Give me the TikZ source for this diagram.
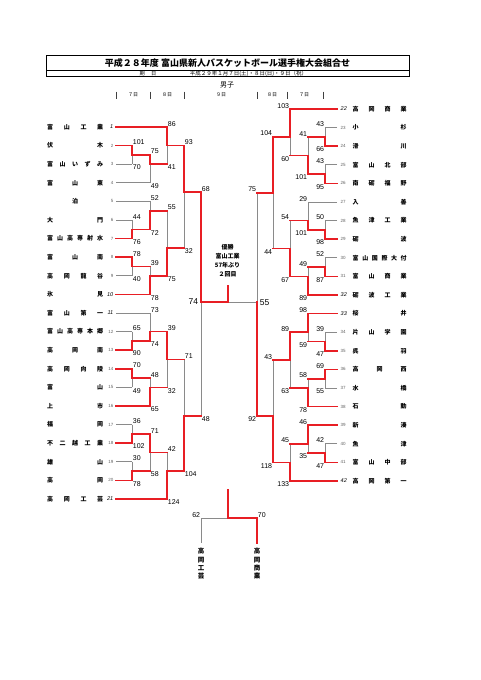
\documentclass[tikz,border=0pt]{standalone}
\usepackage{fontspec}
\setmainfont{Liberation Sans}
\newfontfamily\jp{Noto Sans CJK JP}
\definecolor{wr}{RGB}{232,30,36}
\definecolor{lg}{RGB}{138,138,138}
\pgfdeclarelayer{back}
\pgfsetlayers{back,main}
\tikzset{
 win/.style={draw=wr,line width=1.6pt,line cap=rect},
 lose/.style={draw=lg,line width=0.8pt},
 sc/.style={font=\fontsize{7}{8}\selectfont,inner sep=0.7pt},
 bigsc/.style={font=\fontsize{8.5}{9}\selectfont,inner sep=0.7pt},
 nm/.style={font=\jp\bfseries\fontsize{6}{7}\selectfont,inner sep=0pt},
 plain/.style={font=\fontsize{4.5}{5}\selectfont,text=lg!70!black,inner sep=0pt},
 seed/.style={font=\itshape\fontsize{5.5}{6}\selectfont,inner sep=0pt},
 day/.style={font=\jp\fontsize{5}{6}\selectfont,inner sep=0pt},
 vt/.style={font=\jp\bfseries\fontsize{6.5}{8.3}\selectfont,align=center,inner sep=0pt},
}
\newcommand\mtop[5]{\begin{pgfonlayer}{back}\draw[lose] (#1,#3)--(#1,#4);\end{pgfonlayer}\draw[win] (#1,#2)--(#1,#3)--(#5,#3);}
\newcommand\mbot[5]{\begin{pgfonlayer}{back}\draw[lose] (#1,#2)--(#1,#3);\end{pgfonlayer}\draw[win] (#1,#4)--(#1,#3)--(#5,#3);}
\newcommand\teamw[3]{\draw[win] (#1,#2)--(#3,#2);}
\newcommand\teaml[3]{\begin{pgfonlayer}{back}\draw[lose] (#1,#2)--(#3,#2);\end{pgfonlayer}}
\newcommand\lscore[5]{\node[sc,anchor=south west] at (#1,#2) {#4};\node[sc,anchor=north west] at (#1,#3) {#5};}
\newcommand\rscore[5]{\node[sc,anchor=south east] at (#1,#2) {#4};\node[sc,anchor=north east] at (#1,#3) {#5};}
\newcommand\LN[4]{\node[nm,anchor=west] (n#1) at (47,#2) {\makebox[56pt][s]{#3}};\node[#4,anchor=east] (k#1) at (113.5,#2) {#1};}
\newcommand\RN[4]{\node[nm,anchor=west] (n#1) at (352.5,#2) {\makebox[54pt][s]{#3}};\node[#4,anchor=west] (k#1) at (340.5,#2) {#1};}
\begin{document}
\begin{tikzpicture}[x=1pt,y=-1pt]
\useasboundingbox (0,0) rectangle (481,680);
% header
\draw[line width=0.8pt] (46,55) rectangle (409,76.7);
\draw[line width=0.6pt] (46,70.7)--(409,70.7);
\node[font=\jp\bfseries\fontsize{9}{10}\selectfont,inner sep=0pt] (title) at (227.5,63) {平成２８年度 富山県新人バスケットボール選手権大会組合せ};
\node[font=\jp\fontsize{5.2}{6}\selectfont,inner sep=0pt] (kijitsu) at (148,73.8) {期\hspace{1.2em}日};
\node[font=\jp\fontsize{5.5}{6}\selectfont,inner sep=0pt] (date) at (248.5,73.8) {平成２９年１月７日(土)・８日(日)・９日（祝）};
\node[font=\jp\fontsize{7}{8}\selectfont,inner sep=0pt] (danshi) at (227,85) {男子};
\foreach \x/\nm in {116/a,150/b,184/c,257/d,287/e,323/f}
  \draw[line width=0.45pt,black!75] (\x,91.5) coordinate (tk\nm) -- (\x,98.5);
\node[day] (d1) at (133,95) {７日};
\node[day] (d2) at (167,95) {８日};
\node[day] (d3) at (221,95) {９日};
\node[day] (d4) at (272,95) {８日};
\node[day] (d5) at (304,95) {７日};
% left names
\LN{1}{127}{富\hfill 山\hfill 工\hfill 業}{seed}
\LN{2}{145.6}{伏\hfill 木}{plain}
\LN{3}{164.2}{富\hfill 山\hfill い\hfill ず\hfill み}{plain}
\LN{4}{182.8}{富\hfill 山\hfill 東}{plain}
\LN{5}{201.4}{\hfill 泊\hfill}{plain}
\LN{6}{220}{大\hfill 門}{plain}
\LN{7}{238.6}{富\hfill 山\hfill 高\hfill 専\hfill 射\hfill 水}{plain}
\LN{8}{257.2}{富\hfill 山\hfill 南}{plain}
\LN{9}{275.8}{高\hfill 岡\hfill 龍\hfill 谷}{plain}
\LN{10}{294.4}{氷\hfill 見}{seed}
\LN{11}{313}{富\hfill 山\hfill 第\hfill 一}{seed}
\LN{12}{331.6}{富\hfill 山\hfill 高\hfill 専\hfill 本\hfill 郷}{plain}
\LN{13}{350.2}{高\hfill 岡\hfill 南}{plain}
\LN{14}{368.8}{高\hfill 岡\hfill 向\hfill 陵}{plain}
\LN{15}{387.4}{富\hfill 山}{plain}
\LN{16}{406}{上\hfill 市}{plain}
\LN{17}{424.6}{福\hfill 岡}{plain}
\LN{18}{443.2}{不\hfill 二\hfill 越\hfill 工\hfill 業}{plain}
\LN{19}{461.8}{雄\hfill 山}{plain}
\LN{20}{480.4}{高\hfill 岡}{plain}
\LN{21}{499}{高\hfill 岡\hfill 工\hfill 芸}{seed}
% right names
\RN{22}{109}{高\hfill 岡\hfill 商\hfill 業}{seed}
\RN{23}{127.6}{小\hfill 杉}{plain}
\RN{24}{146.2}{滑\hfill 川}{plain}
\RN{25}{164.8}{富\hfill 山\hfill 北\hfill 部}{plain}
\RN{26}{183.4}{南\hfill 砺\hfill 福\hfill 野}{plain}
\RN{27}{202}{入\hfill 善}{plain}
\RN{28}{220.6}{魚\hfill 津\hfill 工\hfill 業}{plain}
\RN{29}{239.2}{砺\hfill 波}{plain}
\RN{30}{257.8}{富\hfill 山\hfill 国\hfill 際\hfill 大\hfill 付}{plain}
\RN{31}{276.4}{富\hfill 山\hfill 商\hfill 業}{plain}
\RN{32}{295}{砺\hfill 波\hfill 工\hfill 業}{seed}
\RN{33}{313.6}{桜\hfill 井}{seed}
\RN{34}{332.2}{片\hfill 山\hfill 学\hfill 園}{plain}
\RN{35}{350.8}{呉\hfill 羽}{plain}
\RN{36}{369.4}{高\hfill 岡\hfill 西}{plain}
\RN{37}{388}{水\hfill 橋}{plain}
\RN{38}{406.6}{石\hfill 動}{plain}
\RN{39}{425.2}{新\hfill 湊}{plain}
\RN{40}{443.8}{魚\hfill 津}{plain}
\RN{41}{462.4}{富\hfill 山\hfill 中\hfill 部}{plain}
\RN{42}{481}{高\hfill 岡\hfill 第\hfill 一}{seed}
% left team lines
\teamw{116}{127}{167}
\teamw{116}{145.6}{132}
\teaml{116}{164.2}{132}
\teaml{116}{182.8}{150}
\teaml{116}{201.4}{150}
\teaml{116}{220}{132}
\teamw{116}{238.6}{132}
\teamw{116}{257.2}{132}
\teaml{116}{275.8}{132}
\teamw{116}{294.4}{150}
\teaml{116}{313}{150}
\teaml{116}{331.6}{132}
\teamw{116}{350.2}{132}
\teamw{116}{368.8}{132}
\teaml{116}{387.4}{132}
\teamw{116}{406}{150}
\teaml{116}{424.6}{132}
\teamw{116}{443.2}{132}
\teaml{116}{461.8}{132}
\teamw{116}{480.4}{132}
\teamw{116}{499}{167}
% left matches
\mtop{132}{145.6}{154.9}{164.2}{150}
\mtop{150}{154.9}{164.2}{182.8}{167}
\mtop{167}{127}{145.6}{164.2}{184}
\mbot{132}{220}{229.3}{238.6}{150}
\mbot{150}{201.4}{210.7}{229.3}{167}
\mtop{132}{257.2}{266.5}{275.8}{150}
\mbot{150}{266.5}{275.8}{294.4}{167}
\mbot{167}{210.7}{247.9}{275.8}{184}
\mtop{184}{145.6}{192.1}{247.9}{201}
\mbot{132}{331.6}{340.9}{350.2}{150}
\mbot{150}{313}{331.6}{340.9}{167}
\mtop{132}{368.8}{378.1}{387.4}{150}
\mbot{150}{378.1}{387.4}{406}{167}
\mtop{167}{331.6}{359.5}{387.4}{184}
\mbot{132}{424.6}{433.9}{443.2}{150}
\mbot{132}{461.8}{471.1}{480.4}{150}
\mtop{150}{433.9}{452.5}{471.1}{167}
\mbot{167}{452.5}{471.1}{499}{184}
\mbot{184}{359.5}{416}{471.1}{201}
\mtop{201}{192.1}{302}{416}{228}
% right team lines
\teamw{337}{109}{290}
\teaml{337}{127.6}{325}
\teamw{337}{146.2}{325}
\teaml{337}{164.8}{325}
\teamw{337}{183.4}{325}
\teaml{337}{202}{308}
\teaml{337}{220.6}{325}
\teamw{337}{239.2}{325}
\teaml{337}{257.8}{325}
\teamw{337}{276.4}{325}
\teamw{337}{295}{308}
\teamw{337}{313.6}{308}
\teaml{337}{332.2}{325}
\teamw{337}{350.8}{325}
\teamw{337}{369.4}{325}
\teaml{337}{388}{325}
\teamw{337}{406.6}{308}
\teamw{337}{425.2}{308}
\teaml{337}{443.8}{325}
\teamw{337}{462.4}{325}
\teamw{337}{481}{290}
% right matches
\mbot{325}{127.6}{136.9}{146.2}{308}
\mbot{325}{164.8}{174.1}{183.4}{308}
\mbot{308}{136.9}{155.5}{174.1}{290}
\mtop{290}{109}{136.9}{155.5}{273}
\mbot{325}{220.6}{229.9}{239.2}{308}
\mbot{308}{202}{220.6}{229.9}{290}
\mbot{325}{257.8}{267.1}{276.4}{308}
\mbot{308}{267.1}{276.4}{295}{290}
\mbot{290}{220.6}{248.5}{276.4}{273}
\mtop{273}{136.9}{192.7}{248.5}{257}
\mbot{325}{332.2}{341.5}{350.8}{308}
\mtop{308}{313.6}{332.2}{341.5}{290}
\mtop{325}{369.4}{378.7}{388}{308}
\mbot{308}{378.7}{388}{406.6}{290}
\mtop{290}{332.2}{360.1}{388}{273}
\mbot{325}{443.8}{453.1}{462.4}{308}
\mtop{308}{425.2}{443.8}{453.1}{290}
\mbot{290}{443.8}{462.4}{481}{273}
\mbot{273}{360.1}{416}{462.4}{257}
\mbot{257}{192.7}{302}{416}{257}
% final
\begin{pgfonlayer}{back}\draw[lose] (228,302)--(257,302);\end{pgfonlayer}
\draw[win] (228,302)--(228,286);
\node[font=\jp\bfseries\fontsize{6}{9}\selectfont,align=center,inner sep=0pt] (champ) at (227.5,260.5) {優勝\\富山工業\\57年ぶり\\２回目};
\node[bigsc,anchor=east] (f74) at (199,302) {74};
\node[bigsc,anchor=west] (f55) at (259,303) {55};
% scores left
\lscore{132}{145.6}{164.2}{101}{70}
\lscore{150}{154.9}{182.8}{75}{49}
\lscore{167}{127}{164.2}{86}{41}
\lscore{132}{220}{238.6}{44}{76}
\lscore{150}{201.4}{229.3}{52}{72}
\lscore{132}{257.2}{275.8}{78}{40}
\lscore{150}{266.5}{294.4}{39}{78}
\lscore{167}{210.7}{275.8}{55}{75}
\lscore{184}{145.6}{247.9}{93}{32}
\lscore{132}{331.6}{350.2}{65}{90}
\lscore{150}{313}{340.9}{73}{74}
\lscore{132}{368.8}{387.4}{70}{49}
\lscore{150}{378.1}{406}{48}{65}
\lscore{167}{331.6}{387.4}{39}{32}
\lscore{132}{424.6}{443.2}{36}{102}
\lscore{132}{461.8}{480.4}{30}{78}
\lscore{150}{433.9}{471.1}{71}{58}
\lscore{167}{452.5}{499}{42}{124}
\lscore{184}{359.5}{471.1}{71}{104}
\lscore{201}{192.1}{416}{68}{48}
% scores right
\rscore{325}{127.6}{146.2}{43}{66}
\rscore{325}{164.8}{183.4}{43}{95}
\rscore{308}{136.9}{174.1}{41}{101}
\rscore{290}{109}{155.5}{103}{60}
\rscore{325}{220.6}{239.2}{50}{98}
\rscore{308}{202}{229.9}{29}{101}
\rscore{325}{257.8}{276.4}{52}{87}
\rscore{308}{267.1}{295}{49}{89}
\rscore{290}{220.6}{276.4}{54}{67}
\rscore{273}{136.9}{248.5}{104}{44}
\rscore{325}{332.2}{350.8}{39}{47}
\rscore{308}{313.6}{341.5}{98}{59}
\rscore{325}{369.4}{388}{69}{55}
\rscore{308}{378.7}{406.6}{58}{78}
\rscore{290}{332.2}{388}{89}{63}
\rscore{325}{443.8}{462.4}{42}{47}
\rscore{308}{425.2}{453.1}{46}{35}
\rscore{290}{443.8}{481}{45}{133}
\rscore{273}{360.1}{462.4}{43}{118}
\rscore{257}{192.7}{416}{75}{92}
% bottom playoff
\begin{pgfonlayer}{back}\draw[lose] (228,518)--(201,518)--(201,543);\end{pgfonlayer}
\draw[win] (228,490)--(228,518)--(257,518)--(257,543);
\node[sc,anchor=south east] (p62) at (201,518) {62};
\node[sc,anchor=south west] (p70) at (257,518) {70};
\node[vt,anchor=north] (bk) at (201,548) {高\\岡\\工\\芸};
\node[vt,anchor=north] (bs) at (257,548) {高\\岡\\商\\業};
\end{tikzpicture}
\end{document}
